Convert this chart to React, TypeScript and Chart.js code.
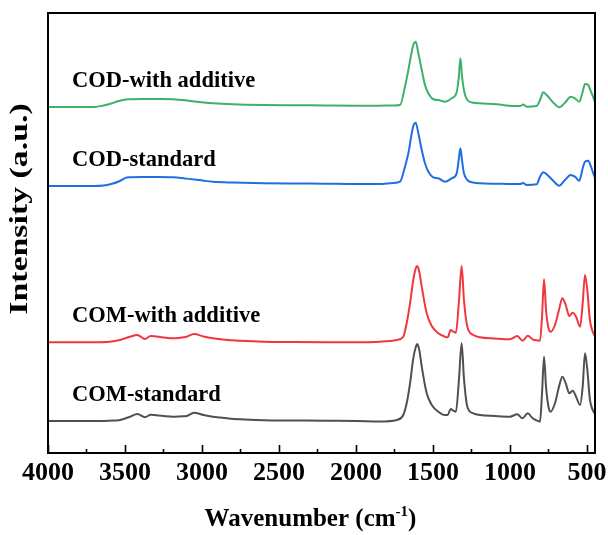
import React, { useEffect, useRef } from "react";
import { Chart, registerables } from "chart.js";

Chart.register(...registerables);

// Wavenumber grids (cm^-1), high to low
const codWavenumbers = [
  4000, 3850, 3700, 3640, 3590, 3540, 3481, 3380, 3280, 3188, 3110, 3050, 2990, 2929, 2800, 2600, 2400, 2200,
  2000, 1850, 1760, 1714, 1682, 1660, 1638, 1628, 1612, 1595, 1573, 1552, 1530, 1498, 1466, 1422, 1379, 1346,
  1333, 1322, 1311, 1299, 1277, 1238, 1195, 1087, 979, 935, 914, 892, 827, 805, 784, 762, 718, 680, 643, 606,
  578, 550, 528, 513, 492, 474, 459, 448,
];

const comWavenumbers = [
  4000, 3850, 3700, 3600, 3532, 3468, 3420, 3370, 3333, 3250, 3188, 3140, 3099, 3052, 2990, 2929, 2850, 2753,
  2600, 2400, 2200, 2000, 1844, 1736, 1693, 1671, 1649, 1628, 1612, 1602, 1589, 1573, 1541, 1508, 1466, 1422,
  1405, 1385, 1368, 1351, 1331, 1314, 1299, 1277, 1238, 1195, 1100, 1000, 953, 918, 885, 853, 818, 805, 792,
  779, 766, 750, 736, 708, 682, 660, 638, 615, 593, 571, 545, 528, 513, 498, 481, 463, 448,
];

// Stacked intensities (a.u.)
const codWithAdditive = [
  346, 346, 346, 347.5, 349.5, 352, 353.7, 354, 354, 353.7, 352.7, 351.5, 350.5, 349.7, 348.7, 348, 347.8, 347.5,
  347.3, 347.3, 347.5, 348, 366.3, 383, 401.3, 408, 411.3, 399.7, 383, 368, 359.7, 353.7, 353, 351.3, 354.7, 361,
  375, 394.7, 376, 363, 353, 350.3, 349.7, 348.7, 347, 347, 348.5, 346.3, 347, 353, 360.7, 358, 350.3, 345.7, 350.3,
  356.3, 354.7, 351.3, 361.3, 369, 368, 361.3, 355.7, 351,
];

const codStandard = [
  267, 267, 267, 267.5, 269, 271.5, 275.7, 276, 276, 275.7, 274.5, 273.5, 272.3, 271.3, 270.5, 269.8, 269.5, 269.3,
  269, 269, 270, 271.3, 286.3, 299.7, 319.7, 327, 330.3, 319.7, 303, 289.7, 281.3, 275.7, 274.7, 271.3, 274.7,
  279.7, 293, 304.7, 292, 279.7, 273, 270.5, 269.7, 269.3, 269, 269, 270, 268, 268.7, 276.3, 280.7, 278.7, 272,
  267.3, 273, 278, 276.3, 272.3, 284.7, 291.3, 292.3, 286.3, 279.7, 275,
];

const comWithAdditive = [
  110.7, 110.7, 110.7, 111.2, 113, 116.3, 118, 114, 117, 115.5, 114.7, 115.3, 116.3, 119, 116.5, 114.7, 113.3,
  112.3, 111.3, 111, 110.8, 110.7, 111.3, 113, 116.3, 129.7, 149.7, 173, 184.7, 187, 181.3, 166.3, 139.7, 127,
  119.7, 116.3, 115.7, 123, 121.3, 120.3, 153, 187, 153, 126.3, 118, 115.7, 114.5, 113.7, 117, 112.3, 117.3, 113.7,
  112.5, 112.3, 136.3, 173.7, 143, 124.7, 121.3, 128, 143, 154.7, 148, 137, 140.3, 136.3, 126.3, 149.7, 178, 163,
  133, 121.3, 117,
];

const comStandard = [
  32, 32, 32, 32.3, 33, 36.3, 39, 35.7, 38.3, 37, 36.3, 36.6, 37, 40.3, 38, 36.3, 35, 33.7, 32.8, 32.5, 32.2, 32,
  31.5, 33, 38, 49.7, 69.7, 94.7, 105.7, 109, 103, 86.3, 59.7, 48, 41.3, 38, 38, 44, 42.3, 41.3, 74.7, 109.7,
  74.7, 46.3, 39.7, 38, 37, 36.3, 38.7, 34.7, 39.7, 34.7, 32, 31.3, 59.7, 96.3, 66.3, 46.3, 41.3, 49.7, 66.3, 76.3,
  69.7, 59.7, 62.3, 56.3, 48, 66.3, 99.7, 83.3, 53.3, 43, 39,
];

const seriesNames = ["COD-with additive", "COD-standard", "COM-with additive", "COM-standard"];
const seriesColors = ["#3cb169", "#1f6fe3", "#f0373f", "#505050"];

const majorTicks = [4000, 3500, 3000, 2500, 2000, 1500, 1000, 500];
const minorTicks = [3750, 3250, 2750, 2250, 1750, 1250, 750];

const SERIF = '"Liberation Serif", "Times New Roman", serif';

const W = 608;
const H = 535;

const toPoints = (xs: number[], ys: number[]) => xs.map((x, i) => ({ x, y: ys[i] }));

const decorPlugin = {
  id: "ftirDecor",
  afterDraw(chart: any) {
    const { ctx, chartArea } = chart;
    const { left, right, top, bottom } = chartArea;
    const xScale = chart.scales.x;
    const yScale = chart.scales.y;
    ctx.save();

    // frame
    ctx.strokeStyle = "#000";
    ctx.lineWidth = 2;
    ctx.strokeRect(left, top, right - left, bottom - top);

    // inward ticks on the bottom axis
    ctx.lineWidth = 1.6;
    ctx.beginPath();
    majorTicks.forEach((v) => {
      const px = Math.round(xScale.getPixelForValue(v)) + 0.5;
      ctx.moveTo(px, bottom);
      ctx.lineTo(px, bottom - 8);
    });
    minorTicks.forEach((v) => {
      const px = Math.round(xScale.getPixelForValue(v)) + 0.5;
      ctx.moveTo(px, bottom);
      ctx.lineTo(px, bottom - 4);
    });
    ctx.stroke();

    // tick labels
    ctx.fillStyle = "#000";
    ctx.font = `bold 26px ${SERIF}`;
    ctx.textAlign = "center";
    ctx.textBaseline = "alphabetic";
    majorTicks.forEach((v) => {
      ctx.fillText(String(v), xScale.getPixelForValue(v), bottom + 27);
    });

    // x-axis title with superscript
    const mainA = "Wavenumber (cm";
    const sup = "-1";
    const mainB = ")";
    ctx.font = `bold 25px ${SERIF}`;
    const wA = ctx.measureText(mainA).width;
    const wB = ctx.measureText(mainB).width;
    ctx.font = `bold 15px ${SERIF}`;
    const wS = ctx.measureText(sup).width;
    const total = wA + wS + wB;
    let tx = (left + right) / 2 - 11 - total / 2;
    const ty = bottom + 73;
    ctx.textAlign = "left";
    ctx.font = `bold 25px ${SERIF}`;
    ctx.fillText(mainA, tx, ty);
    tx += wA;
    ctx.font = `bold 15px ${SERIF}`;
    ctx.fillText(sup, tx, ty - 10);
    tx += wS;
    ctx.font = `bold 25px ${SERIF}`;
    ctx.fillText(mainB, tx, ty);

    // y-axis title (drawn elongated along its run)
    ctx.save();
    ctx.translate(left - 28, top + 196);
    ctx.rotate(-Math.PI / 2);
    ctx.scale(1.3, 1);
    ctx.textAlign = "center";
    ctx.textBaseline = "middle";
    ctx.font = `bold 26px ${SERIF}`;
    ctx.fillText("Intensity (a.u.)", 0, 0);
    ctx.restore();

    // series labels, placed just above each trace's left baseline
    ctx.font = `bold 22.5px ${SERIF}`;
    ctx.textAlign = "left";
    ctx.textBaseline = "alphabetic";
    const baselines = [codWithAdditive[0], codStandard[0], comWithAdditive[0], comStandard[0]];
    seriesNames.forEach((name, i) => {
      const py = yScale.getPixelForValue(baselines[i]) - 20;
      ctx.fillText(name, left + 24, py);
    });

    ctx.restore();
  },
};

export default function App() {
  const canvasRef = useRef<HTMLCanvasElement | null>(null);

  useEffect(() => {
    const canvas = canvasRef.current;
    if (!canvas) return;
    const allSeries = [
      toPoints(codWavenumbers, codWithAdditive),
      toPoints(codWavenumbers, codStandard),
      toPoints(comWavenumbers, comWithAdditive),
      toPoints(comWavenumbers, comStandard),
    ];
    const chart = new Chart(canvas, {
      type: "line",
      data: {
        datasets: allSeries.map((pts, i) => ({
          label: seriesNames[i],
          data: pts,
          borderColor: seriesColors[i],
          borderWidth: 2,
          pointRadius: 0,
          fill: false,
          cubicInterpolationMode: "monotone" as const,
        })),
      },
      options: {
        responsive: false,
        animation: false,
        devicePixelRatio: 1,
        layout: { padding: { left: 48, right: 13, top: 13, bottom: 82 } },
        plugins: { legend: { display: false }, tooltip: { enabled: false } },
        scales: {
          x: { type: "linear", reverse: true, min: 448, max: 4000, display: false },
          y: { type: "linear", min: 0, max: 440, display: false },
        },
      },
      plugins: [decorPlugin],
    });
    return () => chart.destroy();
  }, []);

  return (
    <div style={{ position: "fixed", left: 0, top: 0, width: W, height: H }}>
      <canvas ref={canvasRef} width={W} height={H} style={{ display: "block", width: W, height: H }} />
    </div>
  );
}
